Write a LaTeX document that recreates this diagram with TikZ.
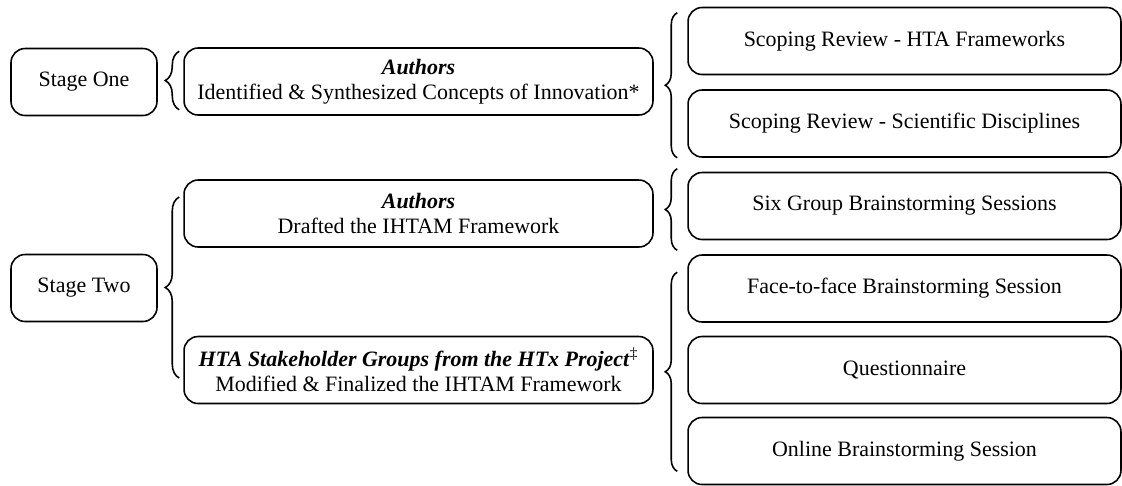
\documentclass[tikz,border=0pt]{standalone}
\usepackage{fontspec}
\setmainfont{Liberation Serif}
\usetikzlibrary{decorations.pathreplacing}

\tikzset{
  stagebox/.style={draw, line width=0.9pt, rounded corners=8pt, align=center,
    minimum height=1.34cm, inner sep=2pt, font=\fontsize{12.5}{14.5}\selectfont},
  leftbox/.style={stagebox, minimum width=2.92cm},
  midbox/.style={stagebox, minimum width=9.38cm},
  rightbox/.style={stagebox, minimum width=8.66cm},
  curly/.style={decorate, decoration={brace, amplitude=#1}, line width=0.9pt},
  curly/.default=0.24cm
}

\begin{document}
\begin{tikzpicture}[x=0.02cm, y=-0.02cm]
\useasboundingbox (0,0) rectangle (1122,485);

% stages
\node [leftbox] (one) at (84,82) {Stage One};
\node [leftbox] (two) at (84,288) {Stage Two};

% who did what
\node [midbox] (auth1) at (418.5,81.5) {\textbf{\textit{Authors}}\\Identified \& Synthesized Concepts of Innovation*};
\node [midbox] (auth2) at (418.5,213.5) {\textbf{\textit{Authors}}\\Drafted the IHTAM Framework};
\node [midbox] (hta) at (418.5,370) {\textbf{\textit{HTA Stakeholder Groups from the HTx Project}}\textsuperscript{\textdaggerdbl}\\Modified \& Finalized the IHTAM Framework};

% methods
\node [rightbox] (scop1) at (904.5,41) {Scoping Review - HTA Frameworks};
\node [rightbox] (scop2) at (904.5,123.5) {Scoping Review - Scientific Disciplines};
\node [rightbox] (six) at (904.5,206) {Six Group Brainstorming Sessions};
\node [rightbox] (face) at (904.5,288.5) {Face-to-face Brainstorming Session};
\node [rightbox] (quest) at (904.5,370) {Questionnaire};
\node [rightbox] (online) at (904.5,451) {Online Brainstorming Session};

% braces
\draw [curly=0.28cm] ([xshift=-0.08cm,yshift=0.12cm]auth1.south west) -- ([xshift=-0.08cm,yshift=-0.08cm]auth1.north west);
\draw [curly=0.28cm] ([xshift=-0.08cm,yshift=-0.16cm]hta.west) -- ([xshift=-0.08cm,yshift=0.33cm]auth2.west);
\draw [curly] ([xshift=-0.2cm]scop2.south west) -- ([xshift=-0.2cm,yshift=-0.12cm]scop1.north west);
\draw [curly] ([xshift=-0.2cm,yshift=-0.2cm]six.south west) -- ([xshift=-0.2cm,yshift=0.06cm]six.north west);
\draw [curly] ([xshift=-0.2cm,yshift=0.28cm]online.south west) -- ([xshift=-0.2cm,yshift=-0.36cm]face.north west);

\end{tikzpicture}
\end{document}
